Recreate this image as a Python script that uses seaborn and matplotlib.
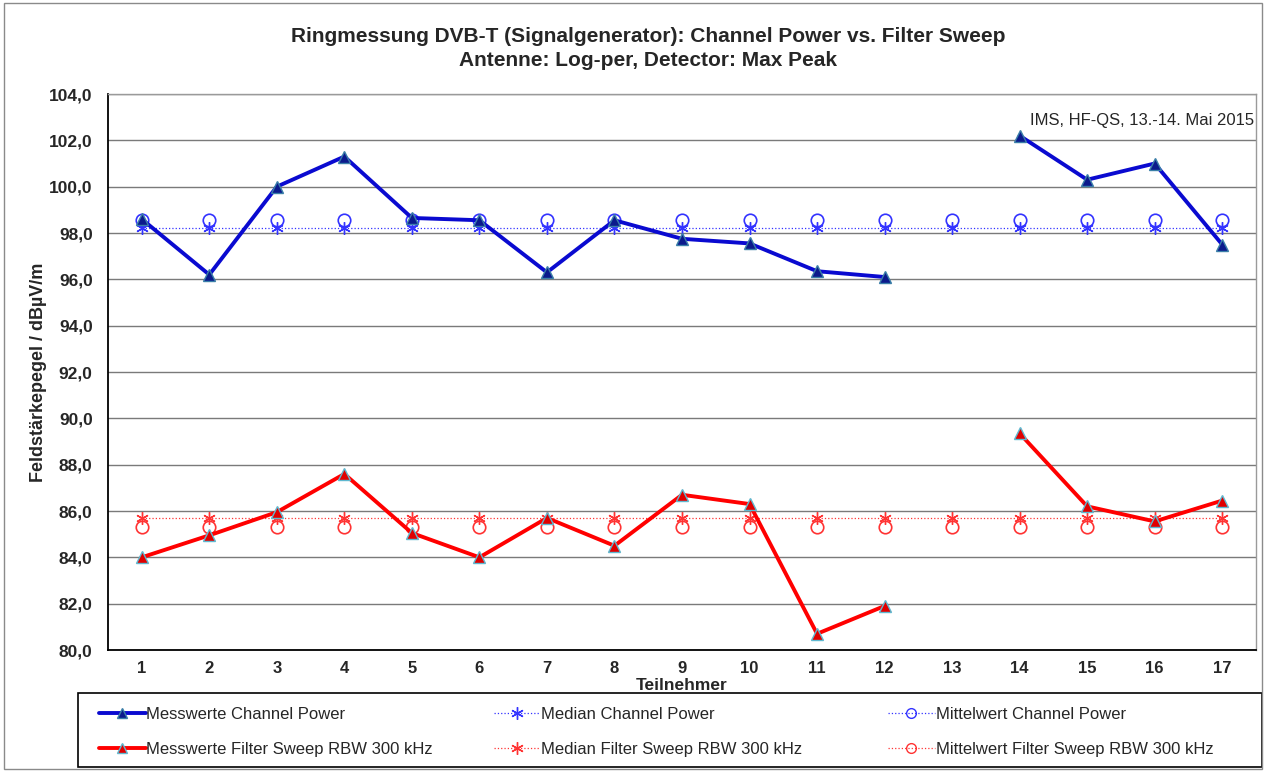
import numpy as np
import pandas as pd
import matplotlib
matplotlib.use('Agg')
import matplotlib.pyplot as plt
from matplotlib.lines import Line2D
from matplotlib.patches import Rectangle
import seaborn as sns

# Werte (Teilnehmer 13 ohne Messwert)
teilnehmer = list(range(1, 18))
channel_power = [98.6, 96.2, 100.0, 101.3, 98.65, 98.55, 96.3, 98.55, 97.75,
                 97.55, 96.35, 96.1, np.nan, 102.2, 100.3, 101.0, 97.5]
filter_sweep = [84.0, 84.95, 85.95, 87.6, 85.05, 84.0, 85.7, 84.5, 86.7,
                86.3, 80.7, 81.9, np.nan, 89.35, 86.2, 85.55, 86.45]
median_cp = 98.2
mittel_cp = 98.55
median_fs = 85.7
mittel_fs = 85.3

y_ticks = list(range(80, 105, 2))

sns.set_theme(style='white', rc={'axes.linewidth': 1.0})
plt.rcParams['font.family'] = ['Liberation Sans', 'DejaVu Sans']

df = pd.DataFrame({'Teilnehmer': teilnehmer,
                   'CP': channel_power,
                   'FS': filter_sweep})
df['Median CP'] = median_cp
df['Mittel CP'] = mittel_cp
df['Median FS'] = median_fs
df['Mittel FS'] = mittel_fs
# Segmente, damit die Lücke bei 13 bleibt
df['seg'] = (df['CP'].isna()).cumsum()

fig = plt.figure(figsize=(12.66, 7.71), dpi=100)
ax = fig.add_axes([108 / 1266, 1 - 650 / 771, (1256 - 108) / 1266, (650 - 94) / 771])

star = (6, 2, 0)
blau, rot = '#0a0ad0', '#ff0000'
blau_d, rot_d = '#3333ff', '#ff3333'

# Median- und Mittelwertlinien
sns.lineplot(data=df, x='Teilnehmer', y='Median CP', ax=ax, color=blau_d, lw=0.9,
             linestyle=':', marker=star, markersize=9, markeredgecolor=blau_d,
             markeredgewidth=1.0, zorder=3)
sns.lineplot(data=df, x='Teilnehmer', y='Mittel CP', ax=ax, color=blau_d, lw=0.0,
             marker='o', markersize=9, markerfacecolor='none', markeredgecolor=blau_d,
             markeredgewidth=1.2, zorder=3)
sns.lineplot(data=df, x='Teilnehmer', y='Median FS', ax=ax, color=rot_d, lw=0.9,
             linestyle=':', marker=star, markersize=9, markeredgecolor=rot_d,
             markeredgewidth=1.0, zorder=3)
sns.lineplot(data=df, x='Teilnehmer', y='Mittel FS', ax=ax, color=rot_d, lw=0.0,
             marker='o', markersize=9, markerfacecolor='none', markeredgecolor=rot_d,
             markeredgewidth=1.2, zorder=3)

# Messwerte
sns.lineplot(data=df.dropna(), x='Teilnehmer', y='CP', units='seg', estimator=None, ax=ax,
             color=blau, lw=2.8, marker='^', markersize=8,
             markerfacecolor='#0b1a8c', markeredgecolor='#3a7fa8', markeredgewidth=1.0,
             zorder=4)
sns.lineplot(data=df.dropna(), x='Teilnehmer', y='FS', units='seg', estimator=None, ax=ax,
             color=rot, lw=2.8, marker='^', markersize=8,
             markerfacecolor='#e00000', markeredgecolor='#5fb8d0', markeredgewidth=1.0,
             zorder=4)

ax.set_xlim(0.5, 17.5)
ax.set_ylim(80, 104)
ax.set_yticks(y_ticks)
ax.set_yticklabels([f'{v:.1f}'.replace('.', ',') for v in y_ticks])
ax.set_xticks(teilnehmer)
ax.set_xticklabels([str(t) for t in teilnehmer])
ax.set_xticks(np.arange(0.5, 18, 1), minor=True)
ax.tick_params(axis='x', which='major', length=0, pad=8, labelsize=12)
ax.tick_params(axis='x', which='minor', length=6, width=1, color='black', direction='out')
ax.tick_params(axis='y', which='major', length=6, width=1, color='black', direction='out',
               labelsize=12.5, pad=5)
for lab in ax.get_xticklabels() + ax.get_yticklabels():
    lab.set_fontweight('bold')
ax.yaxis.grid(True, color='#7a7a7a', lw=1.0)
ax.set_axisbelow(True)
for s in ['top', 'right']:
    ax.spines[s].set_color('#9a9a9a')
for s in ['left', 'bottom']:
    ax.spines[s].set_color('black')
    ax.spines[s].set_linewidth(1.3)

ax.set_xlabel('Teilnehmer', fontsize=12.5, fontweight='bold', labelpad=1.5)
ax.set_ylabel('Feldstärkepegel / dBµV/m', fontsize=13, fontweight='bold', labelpad=1.5)

ax.text(0.998, 0.953, 'IMS, HF-QS, 13.-14. Mai 2015', transform=ax.transAxes,
        ha='right', va='center', fontsize=12)

fig.text(648 / 1266, 1 - 36 / 771, 'Ringmessung DVB-T (Signalgenerator): Channel Power vs. Filter Sweep',
         ha='center', va='center', fontsize=15, fontweight='bold')
fig.text(648 / 1266, 1 - 61 / 771, 'Antenne: Log-per, Detector: Max Peak',
         ha='center', va='center', fontsize=15, fontweight='bold')

# Legende: drei Spalten in festen Dritteln wie im Original
handles = [
    Line2D([], [], color=blau, lw=2.8, marker='^', markersize=7,
           markerfacecolor='#0b1a8c', markeredgecolor='#3a7fa8'),
    Line2D([], [], color=rot, lw=2.8, marker='^', markersize=7,
           markerfacecolor='#e00000', markeredgecolor='#5fb8d0'),
    Line2D([], [], color=blau_d, lw=0.9, linestyle=':', marker=star, markersize=9,
           markeredgecolor=blau_d),
    Line2D([], [], color=rot_d, lw=0.9, linestyle=':', marker=star, markersize=9,
           markeredgecolor=rot_d),
    Line2D([], [], color=blau_d, lw=0.9, linestyle=':', marker='o', markersize=7,
           markerfacecolor='none', markeredgecolor=blau_d),
    Line2D([], [], color=rot_d, lw=0.9, linestyle=':', marker='o', markersize=7,
           markerfacecolor='none', markeredgecolor=rot_d),
]
labels = ['Messwerte Channel Power', 'Messwerte Filter Sweep RBW 300 kHz',
          'Median Channel Power', 'Median Filter Sweep RBW 300 kHz',
          'Mittelwert Channel Power', 'Mittelwert Filter Sweep RBW 300 kHz']
for k in range(3):
    x0 = (99 + 394.5 * k) / 1266
    fig.legend(handles[2 * k:2 * k + 2], labels[2 * k:2 * k + 2], loc='upper left',
               bbox_to_anchor=(x0, 1 - 707 / 771), borderaxespad=0, borderpad=0,
               frameon=False, fontsize=12, handlelength=2.8, handletextpad=0.05,
               labelspacing=1.2)
fig.patches.append(Rectangle((78 / 1266, 1 - 767 / 771), (1262 - 78) / 1266, (767 - 693) / 771,
                             transform=fig.transFigure, fill=False, edgecolor='black', lw=1.2))

# Rahmen um das ganze Diagramm
fig.patches.append(Rectangle((4 / 1266, 2 / 771), 1258 / 1266, 766 / 771, transform=fig.transFigure,
                             fill=False, edgecolor='#8a8a8a', lw=1.0))

fig.savefig('out.png', dpi=100)
